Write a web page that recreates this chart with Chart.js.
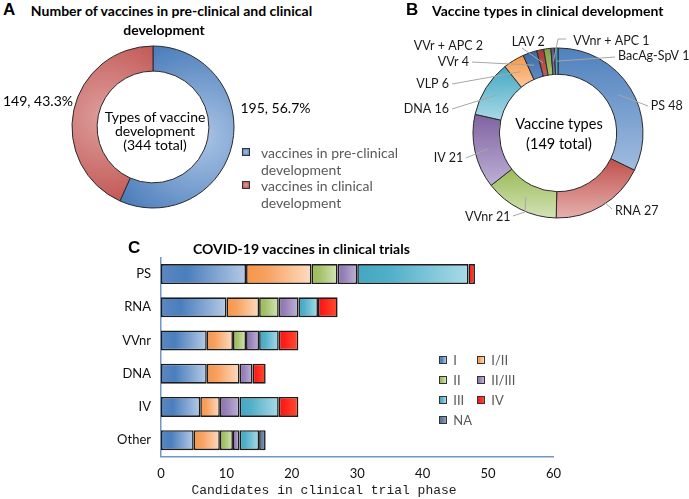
<!DOCTYPE html>
<html><head><meta charset="utf-8">
<script src="https://cdn.jsdelivr.net/npm/chart.js@4.4.1/dist/chart.umd.min.js"></script>
<style>
html,body{margin:0;padding:0;background:#fff;width:689px;height:499px;overflow:hidden;font-family:Lato,sans-serif;}
#wrap{position:relative;width:689px;height:499px;}
canvas{position:absolute;}
.t{position:absolute;white-space:nowrap;line-height:1;}
.sq{position:absolute;box-sizing:border-box;border:1px solid #333;}
</style></head>
<body><div id="wrap">
<canvas id="cA" width="200" height="200" style="left:53px;top:27px"></canvas>
<canvas id="cB" width="344" height="240" style="left:345px;top:0px"></canvas>
<canvas id="cC" width="470" height="263" style="left:100px;top:236px"></canvas>
</div>
<script>
// ---------------- DATA ----------------
const stageNames = ['vaccines in pre-clinical development', 'vaccines in clinical development'];
const stageCounts = [195, 149];

const typeNames = ['PS', 'RNA', 'VVnr', 'IV', 'DNA', 'VLP', 'VVr', 'LAV', 'VVr + APC', 'VVnr + APC', 'BacAg-SpV'];
const typeCounts = [48, 27, 21, 21, 16, 6, 4, 2, 2, 1, 1];

const trialTypes = ['PS', 'RNA', 'VVnr', 'DNA', 'IV', 'Other'];
const phaseNames = ['I', 'I/II', 'II', 'II/III', 'III', 'IV', 'NA'];
const phaseI      = [13, 10, 7, 7, 6, 5];
const phaseI_II   = [10, 5, 4, 5, 3, 4];
const phaseII     = [4, 3, 2, 0, 0, 2];
const phaseII_III = [3, 3, 2, 2, 3, 1];
const phaseIII    = [17, 3, 3, 0, 6, 3];
const phaseIV     = [1, 3, 3, 2, 3, 0];
const phaseNA     = [0, 0, 0, 0, 0, 1];
const xTicks = [0, 10, 20, 30, 40, 50, 60];

// ---------------- STYLES ----------------
const stageColors = [{light: '#abc5e6', dark: '#4a7cba'}, {light: '#de9f9d', dark: '#bd4c49'}];
const typeColors = [
  {dark: '#4f81bd', light: '#a0bce0'}, {dark: '#c0504d', light: '#e6b0ae'},
  {dark: '#9bbb59', light: '#d3e3b6'}, {dark: '#7f63a1', light: '#bdb0d5'},
  {dark: '#45a8c3', light: '#a9d9e7'}, {dark: '#f79646', light: '#fcc99d'},
  {dark: '#3b69a1', light: '#5f8cc4'}, {dark: '#a33b38', light: '#c25f5c'},
  {dark: '#7ea145', light: '#a5c46e'}, {dark: '#65508a', light: '#8e7ab0'},
  {dark: '#2f8ea9', light: '#5cb6cf'}
];
const phaseColors = [
  {a: '#5a88c2', b: '#4a7ebd', c: '#b6cae6'},
  {a: '#f79646', b: '#f8a05e', c: '#fddcc2'},
  {a: '#9bbb59', b: '#a3c166', c: '#d5e5b8'},
  {a: '#8d73b0', b: '#9580b7', c: '#c0b2d6'},
  {a: '#44a6c0', b: '#52b0c9', c: '#a9dbe8'},
  {a: '#f31410', b: '#ff1f1a', c: '#ff4f2e'},
  {a: '#5a7293', b: '#62799a', c: '#8ea2bd'}
];
const phaseSeries = [phaseI, phaseI_II, phaseII, phaseII_III, phaseIII, phaseIV, phaseNA];

const wrap = document.getElementById('wrap');
function txt(s, x, y, o = {}) {
  const d = document.createElement('div');
  d.className = 't'; d.textContent = s;
  d.style.left = x + 'px'; d.style.top = y + 'px';
  d.style.font = o.font || '14px Lato';
  d.style.color = o.color || '#000';
  const ax = o.align === 'center' ? '-50%' : o.align === 'right' ? '-100%' : '0';
  d.style.transform = 'translate(' + ax + ',-50%)';
  wrap.appendChild(d);
}
function sq(x, y, size, bg) {
  const d = document.createElement('div');
  d.className = 'sq';
  d.style.left = x + 'px'; d.style.top = y + 'px';
  d.style.width = size + 'px'; d.style.height = size + 'px';
  d.style.background = bg;
  wrap.appendChild(d);
}
function ringGeom(chart, values, i) {
  const ca = chart.chartArea;
  const cx = (ca.left + ca.right) / 2, cy = (ca.top + ca.bottom) / 2;
  const tot = values.reduce((a, b) => a + b, 0);
  let s = 0; for (let k = 0; k < i; k++) s += values[k];
  const a0 = -Math.PI / 2 + s / tot * 2 * Math.PI;
  const a1 = a0 + values[i] / tot * 2 * Math.PI;
  return {cx, cy, a0, a1};
}

// ---------------- PANEL A ----------------
const R_A = 81;
new Chart(document.getElementById('cA'), {
  type: 'doughnut',
  data: {
    labels: stageNames,
    datasets: [{
      data: stageCounts,
      backgroundColor: ctx => {
        const ch = ctx.chart, c = stageColors[ctx.dataIndex] || stageColors[0];
        if (!ch.chartArea || ctx.dataIndex == null) return c.dark;
        const g = ringGeom(ch, stageCounts, ctx.dataIndex);
        const mid = (g.a0 + g.a1) / 2, rr = R_A * 0.6;
        const px = g.cx + Math.cos(mid) * rr, py = g.cy + Math.sin(mid) * rr;
        const grad = ch.ctx.createRadialGradient(px, py, 0, px, py, R_A * 1.25);
        grad.addColorStop(0, c.light); grad.addColorStop(1, c.dark);
        return grad;
      },
      borderColor: '#2a2a2a', borderWidth: 1
    }]
  },
  options: {
    responsive: false, animation: false, events: [],
    radius: R_A, cutout: '69%',
    plugins: {legend: {display: false}, tooltip: {enabled: false}}
  }
});
const totalA = stageCounts.reduce((a, b) => a + b, 0);
txt(`${stageCounts[1]}, ${(stageCounts[1] / totalA * 100).toFixed(1)}%`, 3, 100);
txt(`${stageCounts[0]}, ${(stageCounts[0] / totalA * 100).toFixed(1)}%`, 240.5, 107);
txt('Types of vaccine', 155, 116, {align: 'center'});
txt('development', 155, 129.5, {align: 'center'});
txt(`(${totalA} total)`, 155, 144, {align: 'center'});
stageNames.forEach((n, i) => {
  const y0 = 152 + i * 33;
  const cut = n.lastIndexOf(' ');
  sq(242, y0 - 4, 8, `radial-gradient(circle, ${stageColors[i].light}, ${stageColors[i].dark})`);
  txt(n.slice(0, cut), 261, y0, {color: '#595959'});
  txt(n.slice(cut + 1), 261, y0 + 17, {color: '#595959'});
});
txt('A', 3, 10, {font: 'bold 17px "Liberation Sans"'});
txt('Number of vaccines in pre-clinical and clinical', 171.5, 10, {font: 'bold 14px Lato', align: 'center'});
txt('development', 164, 28.5, {font: 'bold 14px Lato', align: 'center'});

// ---------------- PANEL B ----------------
const R_B = 85;
const typeLabelPos = [
  {tx: 305.7, ty: 106, al: 'left',  pts: [[303, 106]]},
  {tx: 270,   ty: 211, al: 'left',  pts: [[267, 209]]},
  {tx: 165.5, ty: 217, al: 'right', pts: [[180, 212], [168, 216]]},
  {tx: 118.3, ty: 158, al: 'right', pts: [[121, 158]]},
  {tx: 104,   ty: 109, al: 'right', pts: [[107, 109]]},
  {tx: 104,   ty: 84,  al: 'right', pts: [[107, 84]]},
  {tx: 124,   ty: 62,  al: 'right', pts: [[127, 62]]},
  {tx: 166.7, ty: 42,  al: 'left',  pts: [[177, 48]]},
  {tx: 138,   ty: 46,  al: 'right', pts: []},
  {tx: 228.3, ty: 41,  al: 'left',  pts: [[213, 39], [221, 39]]},
  {tx: 273,   ty: 56,  al: 'left',  pts: [[270, 57]]}
];
const labelPlugin = {
  id: 'typeLabels',
  afterDatasetsDraw(chart) {
    const ctx = chart.ctx, meta = chart.getDatasetMeta(0);
    ctx.save();
    ctx.font = '12.5px Lato'; ctx.textBaseline = 'middle'; ctx.fillStyle = '#1a1a1a';
    ctx.strokeStyle = '#a6a6a6'; ctx.lineWidth = 1;
    meta.data.forEach((arc, i) => {
      const L = typeLabelPos[i];
      const p = arc.getProps(['x', 'y', 'startAngle', 'endAngle', 'innerRadius', 'outerRadius'], true);
      const mid = (p.startAngle + p.endAngle) / 2, r = (p.innerRadius + p.outerRadius) / 2;
      if (L.pts.length) {
        ctx.beginPath();
        ctx.moveTo(p.x + Math.cos(mid) * r, p.y + Math.sin(mid) * r);
        L.pts.forEach(q => ctx.lineTo(q[0], q[1]));
        ctx.stroke();
      }
      ctx.textAlign = L.al;
      ctx.fillText(`${typeNames[i]} ${typeCounts[i]}`, L.tx, L.ty);
    });
    ctx.restore();
  }
};
new Chart(document.getElementById('cB'), {
  type: 'doughnut',
  data: {
    labels: typeNames,
    datasets: [{
      data: typeCounts,
      backgroundColor: ctx => {
        const ch = ctx.chart, c = typeColors[ctx.dataIndex] || typeColors[0];
        if (!ch.chartArea || ctx.dataIndex == null) return c.dark;
        const g = ringGeom(ch, typeCounts, ctx.dataIndex);
        let ymin = Infinity, ymax = -Infinity;
        for (let k = 0; k <= 30; k++) {
          const a = g.a0 + (g.a1 - g.a0) * k / 30;
          for (const rr of [R_B * 0.69, R_B]) {
            const y = g.cy + Math.sin(a) * rr;
            ymin = Math.min(ymin, y); ymax = Math.max(ymax, y);
          }
        }
        if (ymax - ymin < 1) return c.dark;
        const grad = ch.ctx.createLinearGradient(0, ymin, 0, ymax);
        grad.addColorStop(0, c.dark); grad.addColorStop(1, c.light);
        return grad;
      },
      borderColor: '#2a2a2a', borderWidth: 1
    }]
  },
  options: {
    responsive: false, animation: false, events: [],
    radius: R_B, cutout: '69%',
    layout: {padding: {left: 123, right: 41, top: 43, bottom: 17}},
    plugins: {legend: {display: false}, tooltip: {enabled: false}}
  },
  plugins: [labelPlugin]
});
const totalB = typeCounts.reduce((a, b) => a + b, 0);
txt('Vaccine types', 559, 123, {font: '14.5px Lato', align: 'center'});
txt(`(${totalB} total)`, 559, 142.5, {font: '14.5px Lato', align: 'center'});
txt('B', 406, 9.5, {font: 'bold 17px "Liberation Sans"'});
txt('Vaccine types in clinical development', 432, 10, {font: 'bold 14px Lato'});

// ---------------- PANEL C ----------------
function barGrad(ctx, si) {
  const ch = ctx.chart, xs = ch.scales.x, c = phaseColors[si];
  if (!xs || !ch.chartArea || ctx.dataIndex == null) return c.b;
  let start = 0;
  for (let k = 0; k < si; k++) start += phaseSeries[k][ctx.dataIndex];
  const end = start + phaseSeries[si][ctx.dataIndex];
  const x0 = xs.getPixelForValue(start), x1 = xs.getPixelForValue(end);
  if (!(x1 - x0 > 0.5)) return c.b;
  const g = ch.ctx.createLinearGradient(x0, 0, x1, 0);
  g.addColorStop(0, c.a); g.addColorStop(0.3, c.b); g.addColorStop(1, c.c);
  return g;
}
new Chart(document.getElementById('cC'), {
  type: 'bar',
  data: {
    labels: trialTypes,
    datasets: phaseSeries.map((vals, si) => ({
      label: phaseNames[si],
      data: vals,
      backgroundColor: ctx => barGrad(ctx, si),
      borderColor: '#1c1c1c', borderWidth: 1.6, borderSkipped: false,
      barPercentage: 0.6, categoryPercentage: 1
    }))
  },
  options: {
    indexAxis: 'y',
    responsive: false, animation: false, events: [],
    layout: {padding: {left: 0, right: 15, top: 21.4, bottom: 0}},
    plugins: {legend: {display: false}, tooltip: {enabled: false}},
    scales: {
      x: {
        stacked: true, min: 0, max: 60,
        afterBuildTicks: s => { s.ticks = xTicks.map(v => ({value: v})); },
        afterFit: s => { s.height = 42.2; },
        grid: {display: false, drawTicks: false},
        border: {display: true, color: '#6f96c8', width: 1.5},
        ticks: {font: {family: 'Lato', size: 13}, color: '#111', padding: 9, maxRotation: 0}
      },
      y: {
        stacked: true,
        afterFit: s => { s.width = 61; },
        grid: {display: false, drawTicks: false},
        border: {display: true, color: '#6f96c8', width: 1.5},
        ticks: {font: {family: 'Lato', size: 13}, color: '#111', padding: 10}
      }
    }
  }
});
txt('C', 128, 248, {font: 'bold 17px "Liberation Sans"'});
txt('COVID-19 vaccines in clinical trials', 193, 248, {font: 'bold 14px Lato'});
txt('Candidates in clinical trial phase', 324, 490, {font: '13px "Liberation Mono"', align: 'center', color: '#222'});
phaseNames.forEach((n, i) => {
  const col = i % 2, row = Math.floor(i / 2);
  const y = 359.7 + row * 20;
  const c = phaseColors[i];
  sq(col ? 477 : 439.3, y - 4, 8, `linear-gradient(to right, ${c.a}, ${c.b} 30%, ${c.c})`);
  txt(n, col ? 491.3 : 453.3, y, {font: '13px Lato', color: '#595959'});
});
</script>
</body></html>
